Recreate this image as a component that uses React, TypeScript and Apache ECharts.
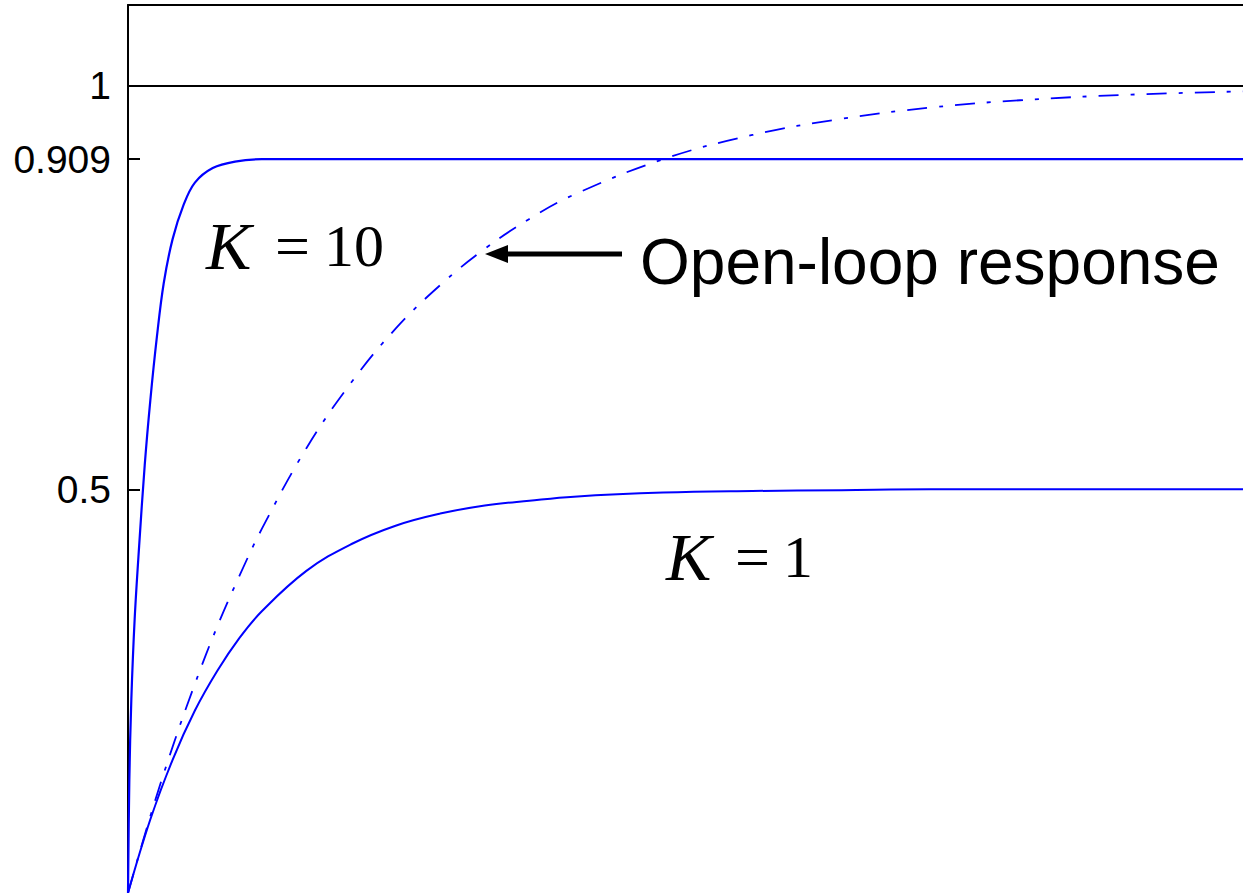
import React, { useEffect, useRef } from "react";
import * as echarts from "echarts";

// Time axis in units of the open-loop time constant
const TIME = [0, 0.1, 0.2, 0.3, 0.4, 0.5, 0.6, 0.8, 1.0, 1.2, 1.4, 1.6, 1.8, 2.0, 2.4, 2.8, 3.2, 3.6, 4.0, 4.5, 5.0];
// Open-loop step response
const OPEN_LOOP = [0, 0.095, 0.181, 0.259, 0.33, 0.393, 0.451, 0.551, 0.632, 0.699, 0.753, 0.798, 0.835, 0.865, 0.909, 0.939, 0.959, 0.973, 0.982, 0.989, 0.993];
// Closed-loop response, K = 1
const K1 = [0, 0.091, 0.165, 0.226, 0.275, 0.316, 0.349, 0.399, 0.432, 0.455, 0.47, 0.48, 0.486, 0.491, 0.496, 0.498, 0.499, 0.5, 0.5, 0.5, 0.5];
// Closed-loop response, K = 10
const K10_TIME = [0, 0.006, 0.015, 0.03, 0.05, 0.075, 0.1, 0.13, 0.16, 0.2, 0.25, 0.3, 0.38, 0.48, 0.6, 1.0, 5.0];
const K10 = [0, 0.14, 0.24, 0.34, 0.43, 0.53, 0.61, 0.69, 0.755, 0.81, 0.853, 0.88, 0.898, 0.906, 0.909, 0.909, 0.909];

const Y_TICKS = [0.5, 0.909, 1];
const REFERENCE_LEVEL = 1;

const BLUE = "#0000ff";

const pairs = (xs: number[], ys: number[]) => xs.map((x, i) => [x, ys[i]]);

export default function App() {
  const ref = useRef<HTMLDivElement>(null);

  useEffect(() => {
    if (!ref.current) return;
    const chart = echarts.init(ref.current, undefined, { renderer: "svg" });
    const serif = "'Liberation Serif', 'Times New Roman', serif";
    const sans = "'Liberation Sans', Arial, sans-serif";
    const label = (text: string, x: number, y: number, font: string) => ({
      type: "text",
      x,
      y,
      style: { text, font, fill: "#000", verticalAlign: "middle" },
    });
    chart.setOption({
      animation: false,
      backgroundColor: "#fff",
      grid: { left: 128, top: 5, right: -10, bottom: -1, containLabel: false },
      xAxis: {
        type: "value",
        min: 0,
        max: 5,
        position: "top",
        axisLine: { show: true, onZero: false, lineStyle: { color: "#000", width: 2 } },
        axisTick: { show: false },
        axisLabel: { show: false },
        splitLine: { show: false },
      },
      yAxis: {
        type: "value",
        min: 0,
        max: 1.1,
        axisLine: { show: true, onZero: false, lineStyle: { color: "#000", width: 2 } },
        axisTick: {
          show: true,
          inside: true,
          length: 12,
          customValues: Y_TICKS,
          lineStyle: { color: "#000", width: 2 },
        },
        axisLabel: {
          show: true,
          customValues: Y_TICKS,
          margin: 17,
          color: "#000",
          fontFamily: sans,
          fontSize: 39,
          formatter: (v: number) => String(v),
        },
        splitLine: { show: false },
      },
      series: [
        {
          name: "Open-loop response",
          type: "line",
          data: pairs(TIME, OPEN_LOOP),
          showSymbol: false,
          smooth: 0.4,
          lineStyle: { color: BLUE, width: 1.8, type: [20, 12, 4, 12] },
          markLine: {
            silent: true,
            symbol: "none",
            label: { show: false },
            lineStyle: { color: "#000", width: 2, type: "solid" },
            data: [{ yAxis: REFERENCE_LEVEL }],
          },
          z: 3,
        },
        {
          name: "K = 1",
          type: "line",
          data: pairs(TIME, K1),
          showSymbol: false,
          smooth: 0.4,
          lineStyle: { color: BLUE, width: 2 },
          z: 3,
        },
        {
          name: "K = 10",
          type: "line",
          data: pairs(K10_TIME, K10),
          showSymbol: false,
          smooth: 0.35,
          lineStyle: { color: BLUE, width: 2.2 },
          z: 4,
        },
      ],
      graphic: [
        label("K", 206, 246, `italic 68px ${serif}`),
        label("=", 275, 246, `62px ${serif}`),
        label("10", 324, 246, `60px ${serif}`),
        label("K", 666, 557, `italic 68px ${serif}`),
        label("=", 735, 557, `62px ${serif}`),
        label("1", 783, 557, `60px ${serif}`),
        label("Open-loop response", 640, 262, `64px ${sans}`),
        { type: "line", shape: { x1: 503, y1: 254, x2: 622, y2: 254 }, style: { stroke: "#000", lineWidth: 5 } },
        { type: "polygon", shape: { points: [[485, 254], [508, 245], [508, 263]] }, style: { fill: "#000" } },
      ],
    });
    return () => chart.dispose();
  }, []);

  return (
    <div
      ref={ref}
      style={{ position: "absolute", left: 0, top: 0, width: 1243, height: 893, background: "#fff" }}
    />
  );
}
